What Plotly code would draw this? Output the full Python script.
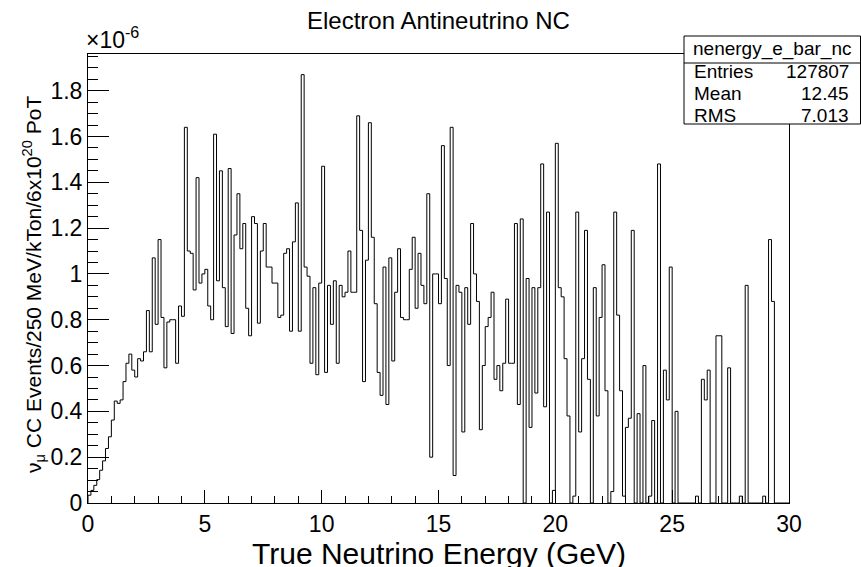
import plotly.graph_objects as go

# ---------------- data (units of 1e-6) ----------------
bin_width = 0.125  # GeV
values = [
    0.034, 0.055, 0.077, 0.102, 0.143, 0.184, 0.238, 0.289,
    0.362, 0.445, 0.435, 0.45, 0.53, 0.61, 0.65, 0.58,
    0.55, 0.63, 0.62, 0.66, 0.84, 0.66, 1.07, 0.78,
    1.15, 0.81, 0.59, 0.79, 0.80, 0.80, 0.61, 0.86,
    0.815, 1.64, 1.10, 1.09, 0.93, 1.42, 0.96, 1.00,
    1.02, 0.86, 0.80, 1.61, 0.97, 1.45, 0.94, 0.77,
    1.46, 0.74, 1.17, 1.35, 1.11, 1.22, 0.85, 0.73,
    1.25, 1.22, 0.785, 1.10, 1.22, 1.03, 1.03, 0.96,
    0.96, 0.81, 0.82, 1.09, 1.11, 0.75, 1.14, 1.31,
    0.75, 1.87, 1.03, 0.99, 0.61, 0.94, 0.56, 0.96,
    1.47, 0.57, 0.95, 0.78, 0.97, 0.61, 0.95, 0.90,
    0.92, 1.10, 0.92, 0.92, 1.69, 1.19, 0.53, 1.06,
    1.66, 1.16, 0.87, 0.57, 0.47, 1.03, 0.43, 1.07,
    0.62, 0.92, 1.11, 0.81, 0.80, 0.80, 1.02, 1.16,
    0.85, 1.09, 0.95, 0.87, 1.35, 0.20, 1.00, 1.00,
    0.87, 1.56, 0.98, 0.60, 1.64, 0.12, 0.95, 0.92,
    0.31, 0.94, 0.78, 1.22, 1.00, 0.88, 0.32, 0.60,
    0.77, 0.81, 0.92, 0.54, 0.60, 0.49, 0.61, 0.89,
    0.61, 0.61, 1.22, 0.43, 1.24, 0.0, 0.98, 0.33,
    0.94, 0.48, 0.94, 1.48, 0.42, 1.27, 0.0, 0.055,
    1.57, 0.94, 0.90, 0.63, 0.38, 0.0, 0.03, 1.27,
    0.31, 0.63, 1.19, 0.54, 0.0, 0.94, 0.38, 0.81,
    1.04, 0.49, 0.0, 0.05, 1.27, 0.82, 0.49, 0.03,
    0.33, 0.37, 1.19, 0.0, 0.39, 0.0, 0.60, 0.0,
    0.03, 0.36, 0.0, 1.48, 0.0, 0.58, 0.45, 1.03,
    0.0, 0.40, 0.0, 0.0, 0.0, 0.0, 0.0, 0.0,
    0.03, 0.0, 0.54, 0.45, 0.58, 0.0, 0.0, 0.73,
    0.73, 0.0, 0.0, 0.59, 0.0, 0.0, 0.0, 0.03,
    0.0, 0.95, 0.0, 0.0, 0.0, 0.0, 0.0, 0.03,
    0.0, 1.15, 0.88, 0.0, 0.0, 0.0, 0.0, 0.0,
]
x_range = [0, 30]
y_range = [0, 1.96]
title_text = "Electron Antineutrino NC"
x_title = "True Neutrino Energy (GeV)"
y_title = "ν<sub>μ</sub> CC Events/250 MeV/kTon/6x10<sup>20</sup> PoT"
exponent_text = "×10<sup>-6</sup>"
stats_name = "nenergy_e_bar_nc"
stats_labels = ["Entries", "Mean", "RMS"]
stats_values = ["127807", "12.45", "7.013"]

# ---------------- geometry ----------------
W, H = 861, 567
L, R, T, B = 88, 789, 54, 503
FONT = "Liberation Sans, Arial, Helvetica, sans-serif"


def px_x(px):
    return (px - L) / (R - L)


def px_y(py):
    return (B - py) / (B - T)


edges = [i * bin_width for i in range(len(values) + 1)]
xs = [edges[0]] + edges
ys = [0] + values + [values[-1]]

fig = go.Figure()
fig.add_trace(go.Scatter(
    x=xs, y=ys, mode="lines",
    line=dict(shape="hv", color="black", width=1),
    hoverinfo="skip", showlegend=False,
))

axis_common = dict(
    showline=True, linecolor="black", linewidth=1, mirror=True,
    showgrid=False, zeroline=False, ticks="inside", tickcolor="black",
    tickwidth=1, tickfont=dict(family=FONT, size=23, color="black"),
)

fig.update_xaxes(
    range=x_range, dtick=5, tick0=0, ticklen=13,
    minor=dict(dtick=1, ticklen=7, ticks="inside", tickcolor="black", tickwidth=1),
    **axis_common,
)
fig.update_yaxes(
    range=y_range, dtick=0.2, tick0=0, ticklen=21,
    minor=dict(dtick=0.05, ticklen=10, ticks="inside", tickcolor="black", tickwidth=1),
    **axis_common,
)

annotations = [
    dict(text=title_text, x=0.5, y=px_y(20), xref="paper", yref="paper",
         showarrow=False, font=dict(family=FONT, size=24, color="black"),
         xanchor="center", yanchor="middle"),
    dict(text=x_title, x=0.5, y=px_y(553), xref="paper", yref="paper",
         showarrow=False, font=dict(family=FONT, size=30, color="black"),
         xanchor="center", yanchor="middle"),
    dict(text=y_title, x=px_x(33), y=px_y(285), xref="paper", yref="paper",
         showarrow=False, textangle=-90, font=dict(family=FONT, size=21, color="black"),
         xanchor="center", yanchor="middle"),
    dict(text=exponent_text, x=px_x(84), y=px_y(38), xref="paper", yref="paper",
         showarrow=False, font=dict(family=FONT, size=23, color="black"),
         xanchor="left", yanchor="middle"),
    dict(text=stats_name, x=px_x(772), y=px_y(49), xref="paper", yref="paper",
         showarrow=False, font=dict(family=FONT, size=19, color="black"),
         xanchor="center", yanchor="middle"),
]
row_y = [72, 93, 115]
for lab, val, yy in zip(stats_labels, stats_values, row_y):
    annotations.append(dict(text=lab, x=px_x(692), y=px_y(yy), xref="paper", yref="paper",
                            showarrow=False, font=dict(family=FONT, size=19, color="black"),
                            xanchor="left", yanchor="middle"))
    annotations.append(dict(text=val, x=px_x(851), y=px_y(yy), xref="paper", yref="paper",
                            showarrow=False, font=dict(family=FONT, size=19, color="black"),
                            xanchor="right", yanchor="middle"))

shapes = [
    dict(type="rect", xref="paper", yref="paper",
         x0=px_x(684), x1=px_x(860.5), y0=px_y(124), y1=px_y(36),
         line=dict(color="black", width=1), fillcolor="white", layer="above"),
    dict(type="line", xref="paper", yref="paper",
         x0=px_x(684), x1=px_x(860.5), y0=px_y(63), y1=px_y(63),
         line=dict(color="black", width=1), layer="above"),
]

fig.update_layout(
    width=W, height=H,
    margin=dict(l=L, r=W - R, t=T, b=H - B, pad=0),
    paper_bgcolor="white", plot_bgcolor="white",
    annotations=annotations, shapes=shapes,
    showlegend=False,
)

fig.write_html("out.html")
